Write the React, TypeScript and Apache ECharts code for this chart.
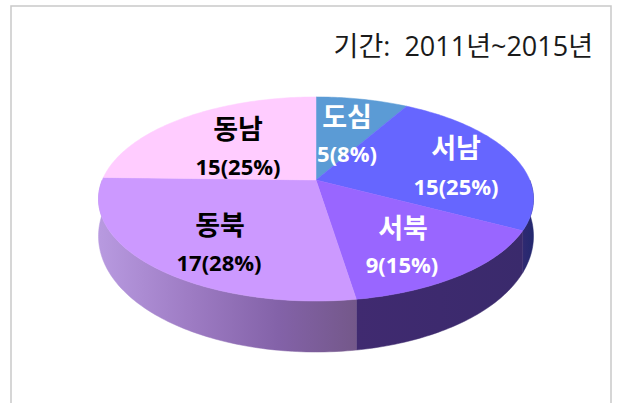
import React, { useEffect, useRef } from "react";
import * as echarts from "echarts";

const districts = ["도심", "서남", "서북", "동북", "동남"];
const counts = [5, 15, 9, 17, 15];
const shareLabels = ["5(8%)", "15(25%)", "9(15%)", "17(28%)", "15(25%)"];
const topColors = ["#5B9BD5", "#6666FF", "#9966FF", "#CC99FF", "#FFCCFF"];
const labelColors = ["#fff", "#fff", "#fff", "#000", "#000"];
const periodText = "기간:  2011년~2015년";

// layout of the tilted disc
const apex = { x: 316, y: 180 };
const K = 0.186;
const A = 98.5;
const B = 213.7;
const labelCentres = [
  [347, 116, 347, 153],
  [456, 147, 456, 186],
  [403, 227, 402, 264],
  [220, 224, 219, 262],
  [238, 128, 238, 166],
];

const total = counts.reduce((a, b) => a + b, 0);
const starts: number[] = [];
counts.reduce((acc, v, i) => {
  starts[i] = acc;
  return acc + (v / total) * 360;
}, 0);
const endOf = (i: number) => starts[i] + (counts[i] / total) * 360;

const rim = (deg: number) => {
  const t = (deg * Math.PI) / 180;
  const u = Math.sin(t);
  const v = -Math.cos(t);
  const w = 1 - K * v;
  return { x: apex.x + (B * u) / w, y: apex.y + (A * v) / w, v };
};
const wallDrop = (v: number) => 34 + 17 * v;

const arcPoints = (a: number, b: number, drop: boolean) => {
  const pts: number[][] = [];
  const n = Math.max(2, Math.ceil(Math.abs(b - a)));
  for (let k = 0; k <= n; k++) {
    const p = rim(a + ((b - a) * k) / n);
    pts.push([p.x, p.y + (drop ? wallDrop(p.v) : 0)]);
  }
  return pts;
};

const wallFill: any[] = [
  null,
  { type: "linear", x: 0, y: 0, x2: 1, y2: 0, colorStops: [{ offset: 0, color: "#2F2A72" }, { offset: 1, color: "#23286E" }] },
  { type: "linear", x: 0, y: 0, x2: 1, y2: 0, colorStops: [{ offset: 0, color: "#402A70" }, { offset: 1, color: "#3A2A6C" }] },
  {
    type: "linear", x: 0, y: 0, x2: 1, y2: 0,
    colorStops: [
      { offset: 0, color: "#B89AE0" },
      { offset: 0.35, color: "#9E7CC4" },
      { offset: 0.7, color: "#8362A8" },
      { offset: 1, color: "#74588A" },
    ],
  },
  null,
];

export default function App() {
  const ref = useRef<HTMLDivElement>(null);
  useEffect(() => {
    const chart = echarts.init(ref.current!, null, { renderer: "svg" });
    const font = "'Open Sans','Noto Sans CJK KR'";
    chart.setOption({
      animation: false,
      backgroundColor: "#fff",
      title: {
        text: periodText,
        right: 24,
        top: 27,
        textStyle: {
          fontFamily: font,
          fontSize: 27,
          fontWeight: "normal",
          color: "#1a1a1a",
        },
      },
      graphic: [
        {
          type: "polyline",
          shape: { points: [[11, 403], [11, 6], [611, 6], [611, 403]] },
          style: { stroke: "#C9C9C9", lineWidth: 1.5, fill: "none" },
          silent: true,
        },
      ],
      series: [
        {
          type: "custom",
          coordinateSystem: "none",
          z: 1,
          data: counts,
          renderItem: (params: any) => {
            const i = params.dataIndex;
            const a = Math.max(starts[i], 90);
            const b = Math.min(endOf(i), 270);
            if (!wallFill[i] || b <= a) return { type: "group", children: [] };
            const pts = [...arcPoints(a, b, false), ...arcPoints(b, a, true)];
            return {
              type: "polygon",
              shape: { points: pts },
              style: { fill: wallFill[i], stroke: wallFill[i], lineWidth: 0.5 },
            };
          },
        },
        {
          type: "custom",
          coordinateSystem: "none",
          z: 2,
          data: counts,
          renderItem: (params: any) => {
            const i = params.dataIndex;
            const pts = [[apex.x, apex.y], ...arcPoints(starts[i], endOf(i), false)];
            return {
              type: "polygon",
              shape: { points: pts },
              style: { fill: topColors[i], stroke: topColors[i], lineWidth: 0.5 },
            };
          },
        },
        {
          type: "custom",
          coordinateSystem: "none",
          z: 3,
          data: counts,
          renderItem: (params: any) => {
            const i = params.dataIndex;
            const c = labelCentres[i];
            const mk = (text: string, x: number, y: number, size: number) => ({
              type: "text",
              x,
              y,
              style: {
                text,
                fill: labelColors[i],
                font: `bold ${size}px ${font}`,
                align: "center",
                verticalAlign: "middle",
              },
            });
            return {
              type: "group",
              children: [
                mk(districts[i], c[0], c[1], 27),
                mk(shareLabels[i], c[2], c[3], 22),
              ],
            };
          },
        },
      ],
    });
    return () => chart.dispose();
  }, []);
  return <div ref={ref} style={{ position: "fixed", left: 0, top: 0, width: 622, height: 403 }} />;
}
